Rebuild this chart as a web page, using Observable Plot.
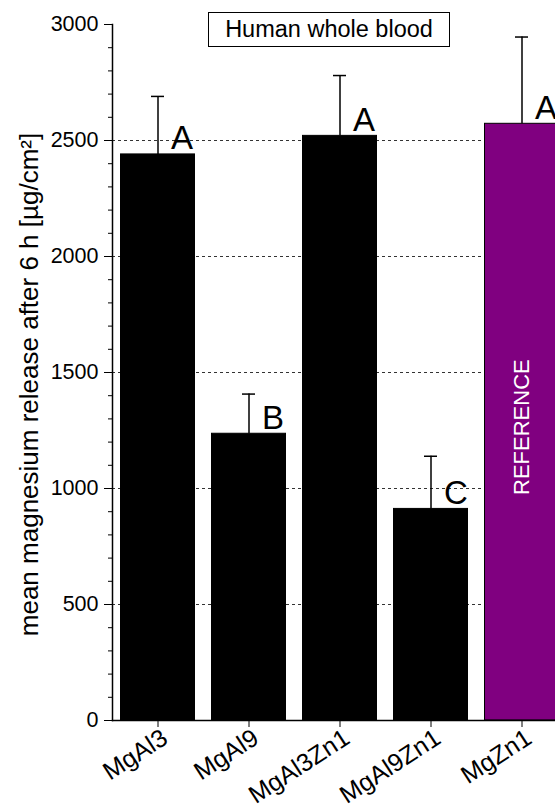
<!DOCTYPE html>
<html>
<head>
<meta charset="utf-8">
<script src="https://cdn.jsdelivr.net/npm/d3@7"></script>
<script src="https://cdn.jsdelivr.net/npm/@observablehq/plot@0.6"></script>
<style>
  html, body { margin: 0; padding: 0; background: white; overflow: hidden; }
  #wrap { position: relative; width: 555px; height: 806px; overflow: hidden; }
  #wrap svg { max-width: none !important; display: block; }
  #title {
    position: absolute; left: 208px; top: 12px; width: 240px; height: 33px;
    border: 1px solid #000; background: #fff;
    font-family: "Liberation Sans", Arial, sans-serif; font-size: 23.5px;
    line-height: 33px; text-align: center; color: #000;
  }
</style>
</head>
<body>
<div id="wrap"><div id="title"></div></div>
<script>
const titleText = "Human whole blood";
const yLabel = "mean magnesium release after 6 h [µg/cm²]";
const categories = ["MgAl3", "MgAl9", "MgAl3Zn1", "MgAl9Zn1", "MgZn1"];
const means = [2440, 1236, 2520, 912, 2572];
const upperErrors = [2690, 1407, 2780, 1139, 2946];
const groups = ["A", "B", "A", "C", "A"];
const referenceFlags = [false, false, false, false, true];
const referenceText = "REFERENCE";
const yMajorTicks = [0, 500, 1000, 1500, 2000, 2500, 3000];
const yMinorTicks = d3.range(0, 3001, 100).filter(v => v % 500 !== 0);
const gridValues = [500, 1000, 1500, 2000, 2500];

const data = categories.map((c, i) => ({
  cat: c, mean: means[i], top: upperErrors[i], group: groups[i], ref: referenceFlags[i]
}));

document.getElementById("title").textContent = titleText;

const font = "'Liberation Sans', Arial, sans-serif";

const chart = Plot.plot({
  width: 567,
  height: 806,
  marginLeft: 112,
  marginRight: 0,
  marginTop: 24,
  marginBottom: 86,
  style: { fontFamily: font, fontSize: "21px", color: "#000", background: "#fff" },
  x: { domain: categories, padding: 0 },
  y: { domain: [0, 3000] },
  marks: [
    Plot.ruleY(gridValues, { stroke: "#333", strokeDasharray: "3,3", strokeWidth: 1 }),
    Plot.barY(data, {
      x: "cat", y: "mean",
      fill: d => d.ref ? "#800080" : "#000",
      stroke: "#000", strokeWidth: 1,
      insetLeft: 8.5, insetRight: 8.5
    }),
    Plot.ruleX(data, { x: "cat", y1: "mean", y2: "top", stroke: "#000", strokeWidth: 1.5 }),
    Plot.tickY(data, { x: "cat", y: "top", stroke: "#000", strokeWidth: 1.5, insetLeft: 39, insetRight: 39 }),
    Plot.text(data, {
      x: "cat", y: "mean", text: "group",
      textAnchor: "start", lineAnchor: "bottom", dx: 13, dy: -5,
      fontSize: 33, fill: "#000"
    }),
    Plot.text(data.filter(d => d.ref), {
      x: "cat", y: d => d.mean / 2, text: () => referenceText,
      rotate: -90, fill: "#fff", fontSize: 22, dy: 5
    }),
    Plot.text([yLabel], {
      text: d => d, frameAnchor: "left", textAnchor: "middle", rotate: -90,
      dx: -75, dy: 12, lineAnchor: "bottom", fontSize: 26, fill: "#000"
    }),
    Plot.axisY(yMajorTicks, { tickSize: 8, tickPadding: 6, fontSize: 21.5, label: null, tickFormat: d => String(d) }),
    Plot.axisY(yMinorTicks, { tickSize: 4, tickFormat: () => "", label: null }),
    Plot.axisX({ tickSize: 7, text: null, label: null }),
    Plot.axisX({ tickSize: 0, tickRotate: -33, tickPadding: 12, dx: 7, dy: 3, fontSize: 25, label: null }),
    Plot.frame({ anchor: "left", stroke: "#000", strokeWidth: 1.5 }),
    Plot.frame({ anchor: "bottom", stroke: "#000", strokeWidth: 1.5 })
  ]
});

document.getElementById("wrap").insertBefore(chart, document.getElementById("title"));
</script>
</body>
</html>
